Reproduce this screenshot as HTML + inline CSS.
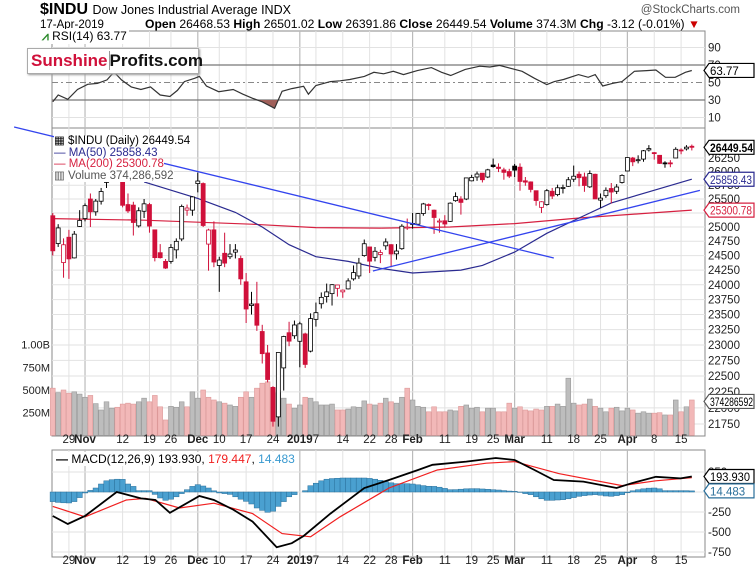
<!DOCTYPE html>
<html><head><meta charset="utf-8"><style>
body{margin:0;background:#fff;}
svg{display:block;font-family:"Liberation Sans Narrow","Liberation Sans",sans-serif;}
</style></head><body>
<svg id="c" width="756" height="572" viewBox="0 0 756 572" xmlns="http://www.w3.org/2000/svg">
<rect x="0" y="0" width="756" height="572" fill="#fff"/>
<g id="grid"></g>
<g id="rsi"></g>
<g id="vol"></g>
<g id="price"></g>
<g id="macd"></g>
<g id="axes"></g>
<g>
<text x="40" y="14" font-size="16" font-weight="bold" fill="#000">$INDU <tspan font-size="12.5" font-weight="normal">Dow Jones Industrial Average INDX</tspan></text>
<text x="740" y="13" font-size="11.5" fill="#555" text-anchor="end">@StockCharts.com</text>
<text x="40" y="28" font-size="11.5" fill="#000">17-Apr-2019</text>
<text x="145" y="28" font-size="11.5" fill="#000" textLength="555" lengthAdjust="spacingAndGlyphs"><tspan font-weight="bold">Open</tspan> 26468.53 <tspan font-weight="bold">High</tspan> 26501.02 <tspan font-weight="bold">Low</tspan> 26391.86 <tspan font-weight="bold">Close</tspan> 26449.54 <tspan font-weight="bold">Volume</tspan> 374.3M <tspan font-weight="bold">Chg</tspan> -3.12 (-0.01%) <tspan fill="#c00">▼</tspan></text>
</g>
</svg>
<script>
const closes=[24583,24984,24688,24443,24874,25116,25380,25270,25462,25635,26180,26191,25989,25387,25286,25080,25289,25413,25017,24465,24464,24285,24640,24748,25366,25338,25538,25826,25027,24947,24389,24423,24370,24527,24597,24100,23592,23675,23323,22859,22445,21792,22878,23138,23062,23327,23346,22686,23433,23531,23787,23879,24001,23996,23909,24065,24207,24370,24706,24404,24575,24553,24737,24528,24579,25014,24999,25064,25239,25411,25390,25169,25106,25053,25425,25543,25439,25883,25891,25954,25850,26031,26091,26057,25985,25916,26026,25819,25806,25673,25473,25450,25650,25554,25703,25709,25849,25914,25887,25745,25962,25502,25516,25657,25626,25717,25929,26258,26179,26218,26384,26425,26341,26150,26157,26143,26412,26384,26452,26449];
const opens=[25200,24710,24380,24820,24460,25010,25150,25500,25270,25460,25800,26200,26150,25980,25400,25390,25020,25280,25400,24950,24550,24400,24400,24600,24790,25300,25300,25780,25780,24700,24950,24330,24540,24480,24560,24450,24050,23650,23680,23220,22870,22320,21860,22630,23200,23150,23060,23180,22900,23420,23680,23800,23850,23940,23880,23930,24100,24150,24500,24650,24470,24520,24670,24690,24530,24620,24990,25050,25050,25240,25400,25300,25100,25110,25100,25470,25500,25500,25830,25900,25970,25900,26120,26080,26030,26000,26100,26080,25830,25810,25650,25350,25400,25640,25580,25700,25730,25860,25950,25900,25720,25950,25480,25560,25690,25640,25800,26010,26250,26200,26230,26400,26350,26300,26160,26160,26250,26400,26420,26469];
const highs=[25250,25050,24800,24950,24930,25300,25420,25600,25500,25700,26200,26280,26190,26020,25600,25450,25350,25500,25430,24950,24700,24440,24700,24800,25400,25400,25550,25980,25800,24970,25100,24480,24900,24700,24700,24500,24200,23880,24050,23330,23000,22340,22880,23150,23380,23400,23380,23200,23520,23700,23870,24020,24010,24000,23920,24110,24330,24460,24780,24640,24650,24600,24800,24700,24700,25050,25150,25250,25250,25430,25420,25310,25150,25210,25440,25620,25550,25890,25940,26000,25970,26050,26240,26150,26070,26050,26140,26150,25900,25820,25650,25460,25680,25700,25760,25760,25900,26110,26000,25980,26020,25960,25600,25710,25790,25770,25950,26260,26270,26300,26400,26490,26360,26300,26190,26210,26450,26430,26490,26501];
const lows=[24500,24650,24120,24100,24450,25000,25100,25000,25200,25400,25700,26100,25850,25350,25250,24850,24990,25160,24900,24400,24450,24270,24360,24450,24750,25200,25200,25620,25000,24240,24300,23880,24300,24440,24450,24000,23360,23500,23230,22700,22400,21710,21710,22270,22980,23100,22640,22630,22880,23300,23600,23700,23650,23800,23780,23920,24070,24100,24480,24200,24400,24370,24600,24300,24430,24600,24950,24970,25030,25200,25300,24880,24900,24990,25090,25450,25220,25480,25820,25830,25800,25880,26070,25990,25850,25880,25900,25650,25740,25620,25380,25250,25380,25500,25550,25600,25720,25810,25730,25630,25700,25500,25340,25520,25420,25590,25780,26000,26100,26150,26180,26370,26220,26140,26070,26080,26250,26320,26390,26391];
const volumes=[520,470,500,465,480,455,420,440,350,280,370,300,310,345,355,345,370,410,370,440,315,170,320,310,370,315,480,410,500,420,390,370,355,335,320,420,480,420,520,575,590,520,470,410,345,300,335,420,410,370,335,335,345,280,280,290,315,310,380,345,335,355,410,370,355,420,520,390,320,310,260,315,260,260,280,270,320,335,300,310,260,300,300,260,260,355,300,315,280,270,290,280,320,320,345,320,630,355,335,345,400,320,300,260,300,310,270,300,280,245,260,245,245,250,225,225,390,260,315,390];
const ma50Idx=[17,27,34,39,44,49,55,61,67,76,80,86,92,98,104,111,119];
const ma50Val=[25810,25510,25260,25000,24690,24480,24400,24280,24200,24250,24330,24560,24890,25160,25430,25630,25860];
const ma200Idx=[0,17,37,49,61,74,86,98,110,119];
const ma200Val=[25150,25120,25050,24990,24980,25000,25060,25160,25240,25300];
const trend1Idx=[-7.2,93.3], trend1Val=[26831,24458];
const trend2Idx=[59.6,120.5], trend2Val=[24235,25655];
const rsiIdx=[0,1,2.8,4.6,6.5,8.3,10.1,11.4,12.8,14.6,16.4,18.2,20,21.8,23.2,24.5,26.4,27.3,28.6,30.9,33.6,35.4,37.2,39,41.3,42.7,44.5,46.7,47.6,49,51.7,53.5,55.3,58,59.8,61.6,63.4,65.3,67.9,70.5,72.4,74.1,76.8,79.5,81.4,83.2,87.4,89.7,92,93.4,95.1,97.9,99.7,101,102.4,104.2,106,108.3,110.6,112.3,114.1,115.9,117.8,119];
const rsiVal=[28,35.7,30.8,42,48,49,53,62,53,45,42,45,35.7,34,41,51,54.8,57,46,39.5,42,36.6,32,28,20.5,40,43,45.7,36.6,46.6,51,52,53.4,57,61.7,60,62.8,59,63.6,67,61.7,58,65,68.6,67.7,69.5,62.8,54.8,47.6,51,53.4,59,56,59,46,49,51,62.8,63.6,64.3,56,56,61.7,63.77];
const macdIdx=[0,2.8,6,11.9,16.4,19.1,21.8,27.3,30,33.6,37.2,41.7,44.5,46.7,51.7,58,62.6,68,70.7,77,82.5,86,89.7,93.3,98.8,105,107.8,112.3,116.9,119];
const macdVal=[-300,-400,-300,0,-80,-100,-260,-50,-100,-220,-370,-690,-640,-550,-270,50,150,275,340,380,425,400,275,150,130,50,110,190,170,194];
const sigIdx=[0,6,13.7,17.3,23.6,30,37.2,42.7,48,53.5,62.6,71.6,80.7,86,94.2,106,112.3,119];
const sigVal=[-180,-310,-100,-80,-200,-140,-270,-520,-560,-310,50,275,360,380,230,80,140,180];
const histVal=[-120,-130,-135,-137,-120,-70,-12,20,50,100,140,154,160,158,100,70,17,17,17,-30,-75,-104,-90,-60,-20,29,70,92,75,50,15,-12,-20,-30,-60,-90,-117,-150,-200,-230,-254,-240,-180,-120,-60,-33,0,17,79,110,140,160,168,172,175,175,175,175,175,170,160,146,130,115,104,104,104,100,90,80,72,70,60,45,29,30,35,40,42,42,38,34,29,25,18,12,8,-5,-20,-33,-60,-85,-104,-104,-100,-96,-85,-70,-54,-45,-38,-33,-40,-50,-54,-45,-33,-10,15,29,40,48,50,40,17,17,17,17,17,14];
const dateLabels=["29","Nov","12","19","26","Dec","10","17","24","2019","7","14","22","28","Feb","11","19","25","Mar","11","18","25","Apr","8","15"];
const dateIdx=[3,6,13,18,22,27,31,36,41,46,49,54,59,63,67,73,78,82,86,92,97,102,107,112,117];
const monthLabels=["Nov","Dec","2019","Feb","Mar","Apr"];
const priceTicks=[21750,22000,22250,22500,22750,23000,23250,23500,23750,24000,24250,24500,24750,25000,25250,25500,25750,26000,26250];
const volTicks=[250,500,750,1000];
const volTickLabels=["250M","500M","750M","1.00B"];
const rsiTicks=[10,30,50,70,90];
const macdTicks=[250,-250,-500,-750];

const NS="http://www.w3.org/2000/svg";
const L=52,R=705;
const PR={t:128,b:436}, RS={t:31,b:128}, MC={t:450,b:557};
function xs(i){return 52.8+i*5.37;}
function yP(p){return 158+1414.5*Math.log(26250/p);}
function yV(v){return 435.4-v*0.0908;}
function yR(v){return 65+(70-v)*0.875;}
function yM(v){return 492-v*0.08;}
function mk(tag,attrs,parent,txt){const e=document.createElementNS(NS,tag);for(const k in attrs)e.setAttribute(k,attrs[k]);if(txt!==undefined)e.textContent=txt;parent.appendChild(e);return e;}
const G=id=>document.getElementById(id);
const grid=G('grid'),rsi=G('rsi'),vol=G('vol'),price=G('price'),macd=G('macd'),axes=G('axes');

[[RS,'rsi-frame'],[PR,'price-frame'],[MC,'macd-frame']].forEach(([p,n])=>{
 const r=mk('rect',{x:L,y:p.t,width:R-L,height:p.b-p.t,fill:'#fff',stroke:'#888','stroke-width':1},grid);
 
 
});
dateIdx.forEach((d,k)=>{
 const isM=monthLabels.includes(dateLabels[k]);
 [[RS],[PR],[MC]].forEach(([p])=>{
  const ln=mk('line',{x1:xs(d),x2:xs(d),y1:p.t,y2:p.b,stroke:isM?'#bbb':'#e2e2e2','stroke-width':isM?1.2:1},grid);
  
  
 });
 [[443],[564]].forEach(([yy])=>{
  const t=mk('text',{x:xs(d),y:yy,'font-size':11.5,'text-anchor':'middle','font-weight':isM?'bold':'normal',fill:'#222'},axes,dateLabels[k]);
  
  
 });
});
priceTicks.forEach(p=>{
 const ln=mk('line',{x1:L,x2:R,y1:yP(p),y2:yP(p),stroke:'#e2e2e2'},grid);
 
 
 const t=mk('text',{x:708,y:yP(p)+4,'font-size':11.5,fill:'#222'},axes,String(p));
 
 
});
volTicks.forEach((v,k)=>{
 const t=mk('text',{x:50,y:yV(v)+4,'font-size':11,fill:'#222','text-anchor':'end'},axes,volTickLabels[k]);
 
 
});
rsiTicks.forEach(v=>{
 const strong=(v===30||v===70);
 const ln=mk('line',{x1:L,x2:R,y1:yR(v),y2:yR(v),stroke:strong?'#777':(v===50?'#888':'#e2e2e2'),'stroke-width':strong?1.3:1,'stroke-dasharray':v===50?'6,3,2,3':'none'},rsi);
 
 
 const t=mk('text',{x:708,y:yR(v)+4,'font-size':11.5,fill:'#222'},axes,String(v));
 
 
});
const rsiPts=rsiIdx.map((d,k)=>xs(d).toFixed(1)+','+yR(rsiVal[k]).toFixed(1)).join(' ');
const defs=mk('defs',{},G('c'));
const cp=mk('clipPath',{id:'below30'},defs);
mk('rect',{x:L,y:yR(30),width:R-L,height:30},cp);
const rf=mk('polygon',{points:xs(rsiIdx[0])+','+yR(30)+' '+rsiPts+' '+xs(rsiIdx[rsiIdx.length-1])+','+yR(30),fill:'#a0605a','clip-path':'url(#below30)'},rsi);


const rl=mk('polyline',{points:rsiPts,fill:'none',stroke:'#333','stroke-width':1.2},rsi);



closes.forEach((c,i)=>{
 const prev=i?closes[i-1]:opens[0];
 const dn=c<prev;
 const b=mk('rect',{x:xs(i)-2.4,y:yV(volumes[i]),width:4.8,height:yV(0)-yV(volumes[i]),fill:dn?'#f2b8b8':'#bdbdbd',stroke:dn?'#d99':'#999','stroke-width':0.6},vol);
 
 
});
function line(idx,val,col,w,name,par){
 const pl=mk('polyline',{points:idx.map((d,k)=>xs(d).toFixed(1)+','+yP(val[k]).toFixed(1)).join(' '),fill:'none',stroke:col,'stroke-width':w},par);
 
 
}
line(ma200Idx,ma200Val,'#d62040',1.2,'ma200-line',price);
line(ma50Idx,ma50Val,'#2a2a90',1.2,'ma50-line',price);
closes.forEach((c,i)=>{
 const o=opens[i],prev=i?closes[i-1]:o;
 const col=c<prev?'#d0103a':'#000';
 const x=xs(i);
 const w=mk('line',{x1:x,x2:x,y1:yP(highs[i]),y2:yP(lows[i]),stroke:col,'stroke-width':1},price);
 
 
 const top=Math.min(yP(o),yP(c)),h=Math.max(1,Math.abs(yP(o)-yP(c)));
 const b=mk('rect',{x:x-2,y:top,width:4,height:h,fill:c>o?'#fff':col,stroke:col,'stroke-width':0.8},price);
 
 
});
line(trend1Idx,trend1Val,'#3344ee',1.3,'trendline-down',G('c'));
line(trend2Idx,trend2Val,'#3344ee',1.3,'trendline-up',G('c'));

[0,...macdTicks].forEach(v=>{
 const ln=mk('line',{x1:L,x2:R,y1:yM(v),y2:yM(v),stroke:'#e2e2e2'},macd);
 
 
});
macdTicks.forEach(v=>{
 const t=mk('text',{x:708,y:yM(v)+4,'font-size':11.5,fill:'#222'},axes,String(v));
 
 
});
histVal.forEach((v,i)=>{
 const b=mk('rect',{x:xs(i)-2.7,y:Math.min(yM(v),yM(0)),width:5.4,height:Math.abs(yM(v)-yM(0)),fill:'#4aa0d0',stroke:'#2a6f9a','stroke-width':0.5},macd);
 
 
});
const sl=mk('polyline',{points:sigIdx.map((d,k)=>xs(d).toFixed(1)+','+yM(sigVal[k]).toFixed(1)).join(' '),fill:'none',stroke:'#f02020','stroke-width':1.2},macd);


const ml=mk('polyline',{points:macdIdx.map((d,k)=>xs(d).toFixed(1)+','+yM(macdVal[k]).toFixed(1)).join(' '),fill:'none',stroke:'#000','stroke-width':1.8},macd);



function tag(y,txt,col,name,len){
 const g=mk('g',{},axes);
 
 
 mk('polygon',{points:`704,${y} 709,${y-7} 754,${y-7} 754,${y+7} 709,${y+7}`,fill:'#fff',stroke:col,'stroke-width':1.2},g);
 const t=mk('text',{x:710,y:y+4.5,'font-size':11.5,fill:col==='#555'?'#000':col,'font-weight':name==='close-tag'?'bold':'normal'},g,txt);
 if(len){t.setAttribute('textLength',len);t.setAttribute('lengthAdjust','spacingAndGlyphs');}
}
tag(yP(26449.54),'26449.54','#000','close-tag',43);
tag(yP(25858.43),'25858.43','#2a2a90','ma50-tag',42);
tag(yP(25300.78),'25300.78','#d62040','ma200-tag',42);
tag(yV(374.3),'374286592','#555','volume-tag',43);
tag(yR(63.77),'63.77','#000','rsi-tag');
tag(yM(193.93),'193.930','#000','macd-tag',40);
tag(yM(14.483),'14.483','#2a6f9a','histogram-tag');
</script>
<div style="position:absolute;left:0;top:0;width:756px;height:572px;pointer-events:none;font-family:'Liberation Sans Narrow','Liberation Sans',sans-serif;">
 <div style="position:absolute;left:40px;top:29px;font-size:12px;color:#000;background:#fff;padding:0 2px;"><span style="color:#2a8a2a;font-weight:bold">⩘</span> RSI(14) 63.77</div>
 <div style="position:absolute;left:27px;top:48px;width:170px;height:24px;border:1px solid #aaa;background:#fff;box-shadow:1px 1px 2px #999;font-size:17px;font-weight:bold;line-height:24px;"><span style="color:#d0103a;padding-left:3px;border-right:1px solid #999;padding-right:1px">Sunshine</span><span style="color:#111">Profits.com</span></div>
 <div style="position:absolute;left:54px;top:136px;font-size:11.5px;line-height:11.5px;">
  <div style="background:#fff;display:inline-block">▦ $INDU (Daily) 26449.54</div><br>
  <div style="background:#fff;display:inline-block;color:#2a2a90">— MA(50) 25858.43</div><br>
  <div style="background:#fff;display:inline-block;color:#d62040">— MA(200) 25300.78</div><br>
  <div style="background:#fff;display:inline-block;color:#555">▥ Volume 374,286,592</div>
 </div>
 <div style="position:absolute;left:54px;top:452px;font-size:12px;background:#fff;padding:0 2px;"><b>—</b> MACD(12,26,9) 193.930, <span style="color:#f02020">179.447</span>, <span style="color:#3a9ad0">14.483</span></div>
</div>
</body></html>
